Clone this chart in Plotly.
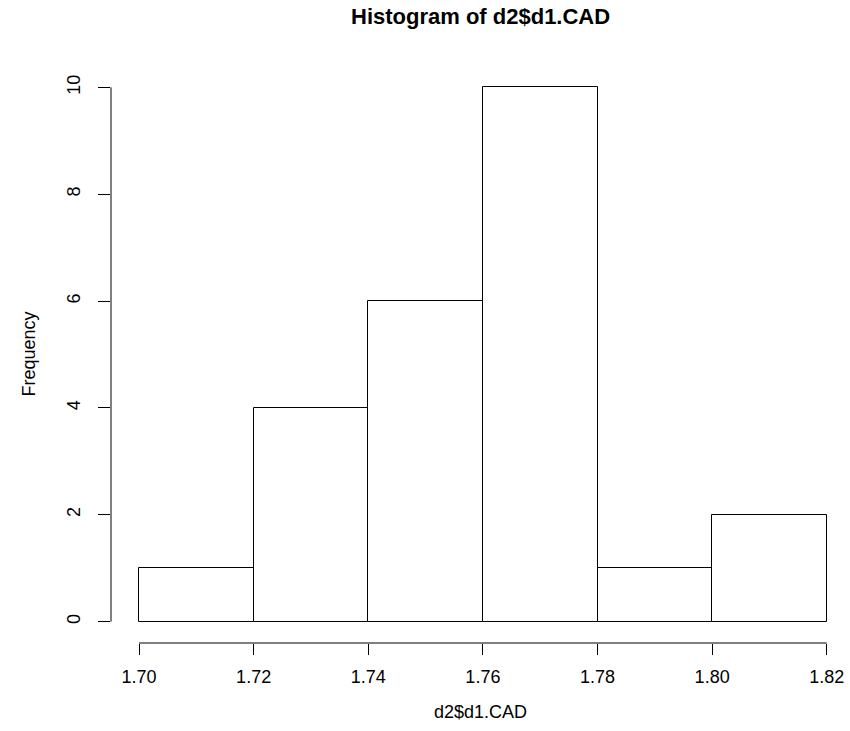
import plotly.graph_objects as go

# Histogram of d2$d1.CAD: bin edges and counts
bin_edges = [1.70, 1.72, 1.74, 1.76, 1.78, 1.80, 1.82]
counts = [1, 4, 6, 10, 1, 2]
x_ticks = [1.70, 1.72, 1.74, 1.76, 1.78, 1.80, 1.82]
x_tick_labels = ["1.70", "1.72", "1.74", "1.76", "1.78", "1.80", "1.82"]
y_ticks = [0, 2, 4, 6, 8, 10]
y_tick_labels = ["0", "2", "4", "6", "8", "10"]

centers = [(a + b) / 2 for a, b in zip(bin_edges[:-1], bin_edges[1:])]
widths = [b - a for a, b in zip(bin_edges[:-1], bin_edges[1:])]

FONT = "Liberation Sans, Arial, Helvetica, sans-serif"

fig = go.Figure()
fig.add_trace(go.Bar(
    x=centers, y=counts, width=widths,
    marker=dict(color="white", line=dict(color="black", width=1)),
    showlegend=False, hoverinfo="skip",
))

# R-style axis lines spanning only the tick range
fig.add_shape(type="line", xref="x", yref="paper",
              x0=x_ticks[0], x1=x_ticks[-1], y0=0, y1=0,
              line=dict(color="black", width=1))
fig.add_shape(type="line", xref="paper", yref="y",
              x0=0, x1=0, y0=y_ticks[0], y1=y_ticks[-1],
              line=dict(color="black", width=1))

fig.update_layout(
    width=850, height=731,
    margin=dict(l=111, r=0, t=66, b=88),
    plot_bgcolor="white", paper_bgcolor="white",
    font=dict(family=FONT, size=18, color="black"),
    bargap=0,
    xaxis=dict(range=[1.695114, 1.824055], showgrid=False, zeroline=False,
               showline=False, ticks="outside", ticklen=11, tickwidth=1,
               tickcolor="black", tickvals=x_ticks, ticktext=x_tick_labels,
               tickfont=dict(size=18), ticklabelstandoff=6),
    yaxis=dict(range=[-0.4, 10.4], showgrid=False, zeroline=False,
               showline=False, ticks="outside", ticklen=12, tickwidth=1,
               tickcolor="black", tickvals=y_ticks, ticktext=y_tick_labels,
               tickangle=-90, tickfont=dict(size=18), ticklabelstandoff=11),
    annotations=[
        dict(text="<b>Histogram of d2$d1.CAD</b>", xref="paper", yref="paper",
             x=0.5, y=1, yshift=50, yanchor="middle", showarrow=False,
             font=dict(size=22, family=FONT)),
        dict(text="d2$d1.CAD", xref="paper", yref="paper",
             x=0.5, y=0, yshift=-69, yanchor="middle", showarrow=False,
             font=dict(size=18, family=FONT)),
        dict(text="Frequency", xref="paper", yref="paper",
             x=0, xshift=-83, xanchor="center", y=0.5, yanchor="middle",
             textangle=-90, showarrow=False,
             font=dict(size=18, family=FONT)),
    ],
)

fig.write_html("out.html")
